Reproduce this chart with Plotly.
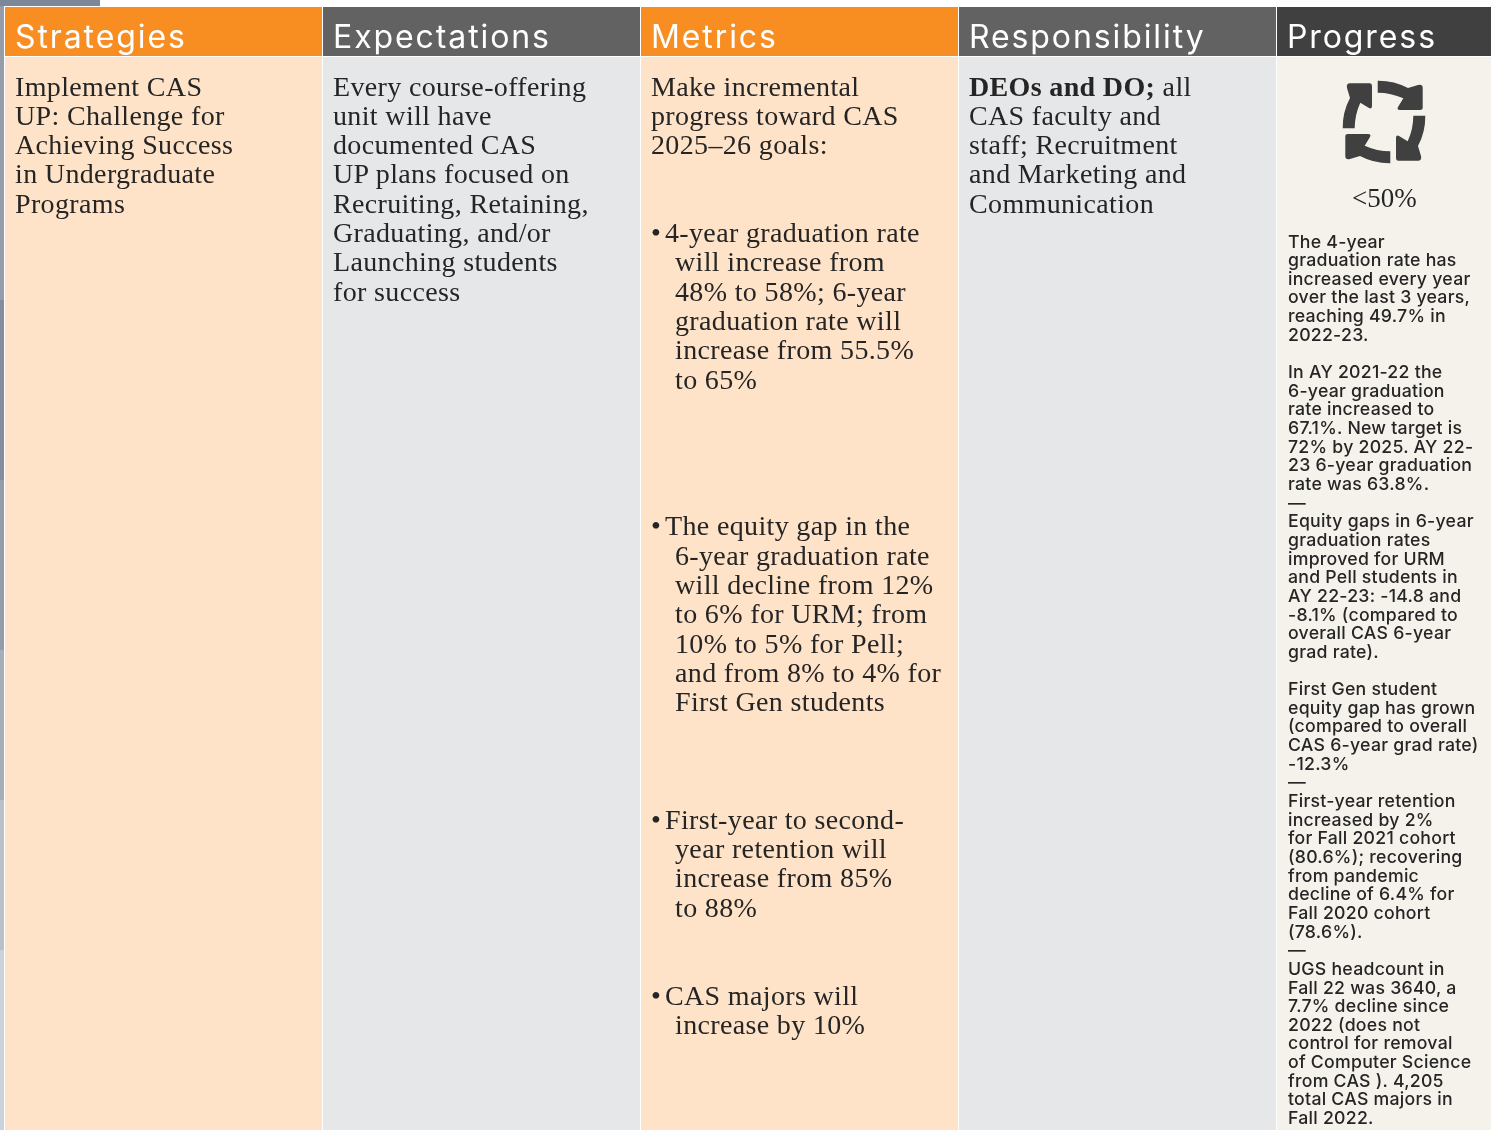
import plotly.graph_objects as go

W, H = 1494, 1130

headers = ["Strategies", "Expectations", "Metrics", "Responsibility", "Progress"]
header_colors = ["#F88D21", "#626263", "#F88D21", "#626263", "#404040"]
body_colors = ["#FEE3C8", "#E6E7E9", "#FEE3C8", "#E6E7E9", "#F5F2EB"]

strategies = ["Implement CAS", "UP: Challenge for", "Achieving Success",
              "in Undergraduate", "Programs"]
expectations = ["Every course-offering", "unit will have", "documented CAS",
                "UP plans focused on", "Recruiting, Retaining,", "Graduating, and/or",
                "Launching students", "for success"]
metrics = ["Make incremental", "progress toward CAS", "2025–26 goals:", "", "",
           "• 4-year graduation rate", "will increase from", "48% to 58%; 6-year",
           "graduation rate will", "increase from 55.5%", "to 65%", "", "", "", "",
           "• The equity gap in the", "6-year graduation rate", "will decline from 12%",
           "to 6% for URM; from", "10% to 5% for Pell;", "and from 8% to 4% for",
           "First Gen students", "", "", "",
           "• First-year to second-", "year retention will", "increase from 85%",
           "to 88%", "", "",
           "• CAS majors will", "increase by 10%"]
responsibility = ["<b>DEOs and DO;</b> all", "CAS faculty and", "staff; Recruitment",
                  "and Marketing and", "Communication"]
progress_label = "<50%"
progress = ["The 4-year", "graduation rate has", "increased every year", "over the last 3 years,",
            "reaching 49.7% in", "2022-23.", "",
            "In AY 2021-22 the", "6-year graduation", "rate increased to",
            "67.1%. New target is", "72% by 2025. AY 22-", "23 6-year graduation",
            "rate was 63.8%.", "—",
            "Equity gaps in 6-year", "graduation rates", "improved for URM",
            "and Pell students in", "AY 22-23: -14.8 and", "-8.1% (compared to",
            "overall CAS 6-year", "grad rate).", "",
            "First Gen student", "equity gap has grown", "(compared to overall",
            "CAS 6-year grad rate)", "-12.3%", "—",
            "First-year retention", "increased by 2%", "for Fall 2021 cohort",
            "(80.6%); recovering", "from pandemic", "decline of 6.4% for",
            "Fall 2020 cohort", "(78.6%).", "—",
            "UGS headcount in", "Fall 22 was 3640, a", "7.7% decline since",
            "2022 (does not", "control for removal", "of Computer Science",
            "from CAS ). 4,205", "total CAS majors in", "Fall 2022."]

col_edges = [5, 323, 641, 959, 1277, 1491]
HEAD_TOP, HEAD_BOT = 7, 56
SERIF = "Liberation Serif"
SANS = "Inter"
INK = "#262525"

shapes, annos = [], []

def rect(x0, y0, x1, y1, c):
    shapes.append(dict(type="rect", x0=x0, y0=y0, x1=x1, y1=y1, fillcolor=c,
                       line=dict(width=0), layer="below"))

def text(x, y, s, size, font=SERIF, color=INK, anchor="left", weight=None):
    f = dict(family=font, size=size, color=color)
    if weight:
        f["weight"] = weight
    annos.append(dict(x=x, y=y, xref="x", yref="y", text=s, showarrow=False,
                      xanchor=anchor, yanchor="middle", align=anchor, font=f,
                      borderpad=0, borderwidth=0))

# page backdrop
for y0, y1, c in [(0, 300, "#959CAA"), (300, 480, "#868E9D"), (480, 650, "#959CA9"),
                  (650, 800, "#A8AEB8"), (800, 950, "#BBC0C8"), (950, H, "#CDD1D8")]:
    rect(0, y0, 4, y1, c)
rect(0, 0, 100, 6, "#7E8799")

for i in range(5):
    x0, x1 = col_edges[i], col_edges[i + 1]
    right = x1 - 1 if i < 4 else x1
    rect(x0, HEAD_TOP, right, HEAD_BOT, header_colors[i])
    rect(x0, HEAD_BOT + 1, right, H, body_colors[i])
    text(x0 + 10, 36.5, headers[i], 32, SANS, "#FFFFFF")

PITCH, START = 29.33, 86
def column(lines, x, bullets=False, indent=23.5):
    for k, s in enumerate(lines):
        if not s:
            continue
        y = START + k * PITCH
        if not bullets or k < 3:
            text(x, y, s, 28)
        elif s.startswith("• "):
            text(x, y, "•", 28)
            text(x + 14, y, s[2:], 28)
        else:
            text(x + indent, y, s, 28)

column(strategies, col_edges[0] + 10)
column(expectations, col_edges[1] + 10)
column(metrics, col_edges[2] + 10, bullets=True)
column(responsibility, col_edges[3] + 10)

text(1384, 198, progress_label, 27, anchor="center")
for k, s in enumerate(progress):
    if s:
        text(1287.5, 241 + k * 18.65, s, 17.7, SANS, weight=500)

# progress icon: one arrow outline turned four times about the centre
cx, cy = 1384, 122
arrow = [("M", (1377.7, 80.7)), ("Q", (1394, 80.5), (1408, 88)), ("L", (1418, 85)),
         ("Q", (1422.7, 84), (1422.7, 88)), ("L", (1422.7, 108)), ("Q", (1422.7, 110), (1420, 110)),
         ("L", (1400, 110)), ("Q", (1396.5, 110), (1398, 107)), ("L", (1403.3, 98.3)),
         ("Q", (1391, 92.7), (1377.7, 92.7))]

def turn(p, n):
    x, y = p[0] - cx, p[1] - cy
    for _ in range(n):
        x, y = -y, x
    return x + cx, y + cy

for n in range(4):
    d = ""
    for seg in arrow:
        d += seg[0] + " ".join("%.2f,%.2f" % turn(p, n) for p in seg[1:]) + " "
    shapes.append(dict(type="path", path=d + "Z", fillcolor="#404040",
                       line=dict(width=0), layer="above"))

fig = go.Figure(go.Scatter(x=[0, W], y=[0, H], mode="markers", opacity=0, hoverinfo="skip"))
fig.update_layout(
    width=W, height=H, margin=dict(l=0, r=0, t=0, b=0), showlegend=False,
    paper_bgcolor="#FFFFFF", plot_bgcolor="#FFFFFF",
    xaxis=dict(range=[0, W], visible=False, fixedrange=True),
    yaxis=dict(range=[H, 0], visible=False, fixedrange=True),
    shapes=shapes, annotations=annos,
)

post = """
document.body.style.margin='0';document.body.style.overflow='hidden';
document.querySelectorAll('.annotation-text').forEach(function(t){
  var s=parseFloat(t.style.fontSize);
  if(s==32)t.style.letterSpacing='1.9px';
  else if(s==28)t.style.letterSpacing='0.35px';
  else if(s==17.7)t.style.letterSpacing='0.25px';
});
"""
fig.write_html("out.html", post_script=post, config={"displayModeBar": False})
